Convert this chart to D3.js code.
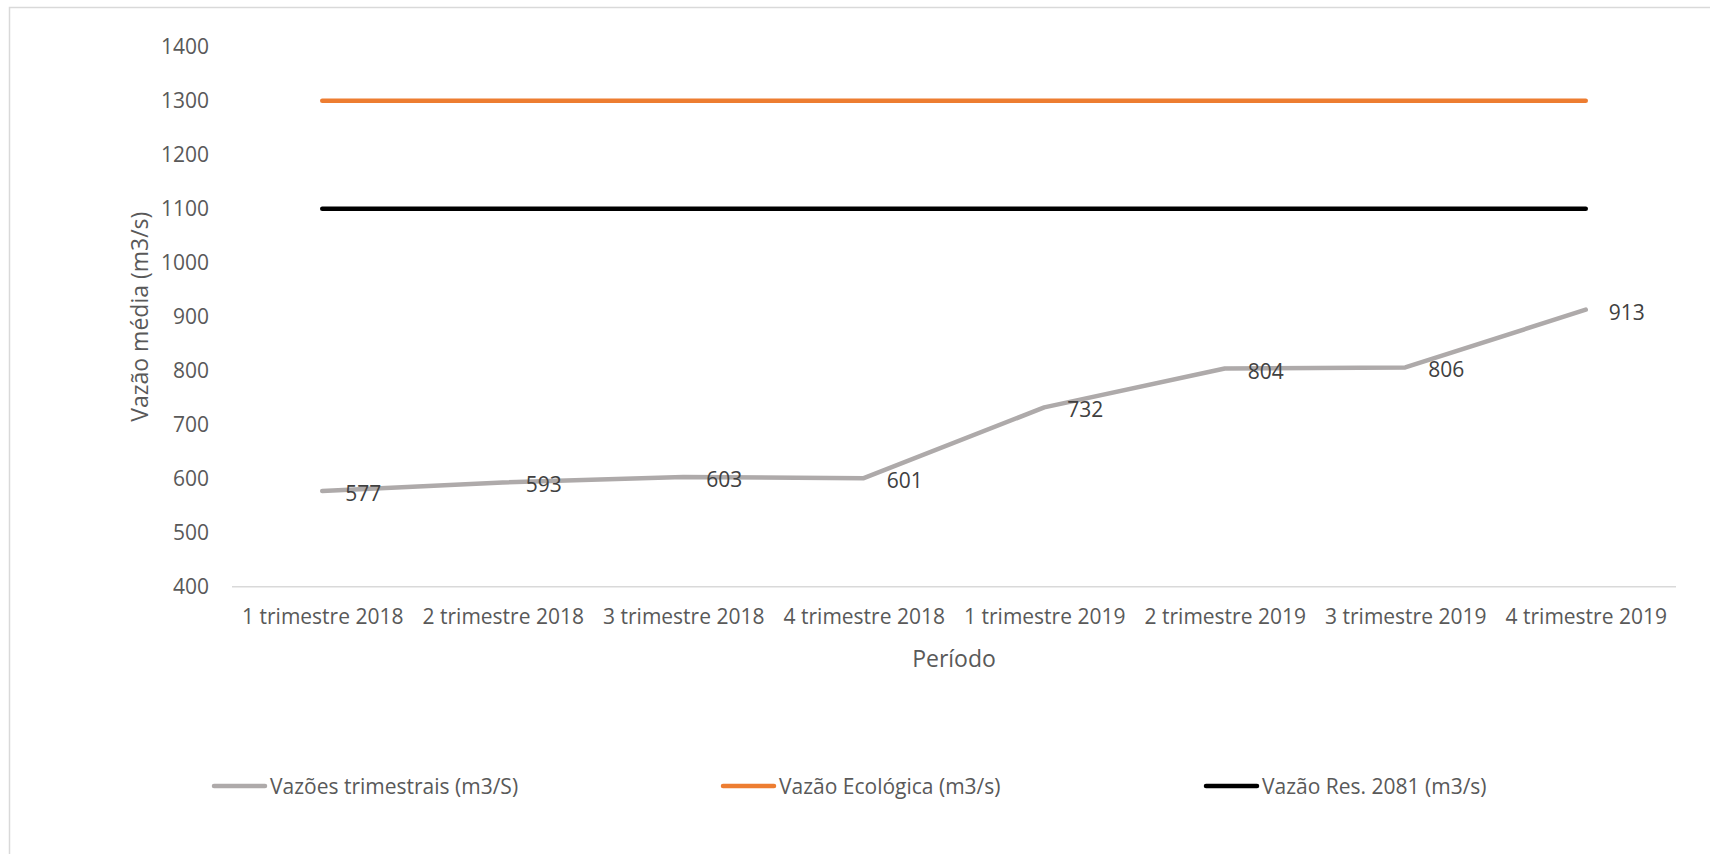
<!DOCTYPE html>
<html>
<head>
<meta charset="utf-8">
<script src="https://cdn.jsdelivr.net/npm/d3@7"></script>
<style>
  body { margin: 0; background: #fff; }
  svg { display: block; }
  svg text { font-family: "Open Sans", sans-serif; }
  .tick text { fill: #595959; font-size: 21px; }
  .axis-title { fill: #595959; font-size: 23px; }
  .data-label { fill: #404040; font-size: 21px; }
  .legend text { fill: #595959; font-size: 21px; }
</style>
</head>
<body>
<svg id="chart" width="1710" height="854"></svg>
<script>
const periods = ['1 trimestre 2018', '2 trimestre 2018', '3 trimestre 2018', '4 trimestre 2018',
  '1 trimestre 2019', '2 trimestre 2019', '3 trimestre 2019', '4 trimestre 2019'];
const vazoesTrimestrais = [577, 593, 603, 601, 732, 804, 806, 913];
const vazaoEcologica = [1300, 1300, 1300, 1300, 1300, 1300, 1300, 1300];
const vazaoRes2081 = [1100, 1100, 1100, 1100, 1100, 1100, 1100, 1100];
const yTicks = [400, 500, 600, 700, 800, 900, 1000, 1100, 1200, 1300, 1400];

const series = [
  { name: 'Vazões trimestrais (m3/S)', values: vazoesTrimestrais, color: '#AEAAAA' },
  { name: 'Vazão Ecológica (m3/s)', values: vazaoEcologica, color: '#ED7D31' },
  { name: 'Vazão Res. 2081 (m3/s)', values: vazaoRes2081, color: '#000000' }
];

const svg = d3.select('#chart');
const plot = { left: 232, right: 1676, top: 46.7, bottom: 586.7 };

// chart area border (runs off the right/bottom edge like the source)
svg.append('rect')
  .attr('x', 9.5).attr('y', 7.5).attr('width', 1720).attr('height', 870)
  .attr('fill', 'none').attr('stroke', '#D9D9D9').attr('stroke-width', 1.5);

const x = d3.scalePoint().domain(periods).range([plot.left, plot.right]).padding(0.5);
const y = d3.scaleLinear().domain([400, 1400]).range([plot.bottom, plot.top]);

// y axis: labels only
const yAxis = svg.append('g')
  .attr('transform', `translate(${plot.left},0)`)
  .call(d3.axisLeft(y).tickValues(yTicks).tickFormat(d3.format('d')).tickSize(0).tickPadding(23));
yAxis.select('.domain').remove();

// x axis
const xAxis = svg.append('g')
  .attr('transform', `translate(0,${plot.bottom})`)
  .call(d3.axisBottom(x).tickSize(0).tickPadding(22));
xAxis.select('.domain').remove();
svg.append('line')
  .attr('x1', plot.left).attr('x2', plot.right)
  .attr('y1', plot.bottom).attr('y2', plot.bottom)
  .attr('stroke', '#D9D9D9').attr('stroke-width', 1.5);

const line = d3.line().x((d, i) => x(periods[i])).y(d => y(d));

series.slice().reverse().forEach(s => {
  svg.append('path')
    .datum(s.values)
    .attr('d', line)
    .attr('fill', 'none')
    .attr('stroke', s.color)
    .attr('stroke-width', 4.5)
    .attr('stroke-linecap', 'round')
    .attr('stroke-linejoin', 'round');
});

// data labels for the quarterly series
svg.selectAll('text.data-label')
  .data(vazoesTrimestrais).enter().append('text')
  .attr('class', 'data-label')
  .attr('x', (d, i) => x(periods[i]) + 23)
  .attr('y', d => y(d) + 2)
  .attr('dominant-baseline', 'central')
  .text(d => d);

// axis titles
svg.append('text').attr('class', 'axis-title')
  .attr('x', (plot.left + plot.right) / 2).attr('y', 658)
  .attr('text-anchor', 'middle').attr('dominant-baseline', 'central')
  .text('Período');
svg.append('text').attr('class', 'axis-title')
  .attr('transform', `translate(139,${(plot.top + plot.bottom) / 2}) rotate(-90)`)
  .attr('text-anchor', 'middle').attr('dominant-baseline', 'central')
  .text('Vazão média (m3/s)');

// legend
const legendX = [212, 721, 1204];
const legend = svg.selectAll('g.legend')
  .data(series).enter().append('g')
  .attr('class', 'legend')
  .attr('transform', (d, i) => `translate(${legendX[i]},786)`);
legend.append('line')
  .attr('x1', 2).attr('x2', 53).attr('y1', 0).attr('y2', 0)
  .attr('stroke', d => d.color).attr('stroke-width', 4.5).attr('stroke-linecap', 'round');
legend.append('text')
  .attr('x', 58).attr('y', 0).attr('dominant-baseline', 'central')
  .text(d => d.name);
</script>
</body>
</html>
